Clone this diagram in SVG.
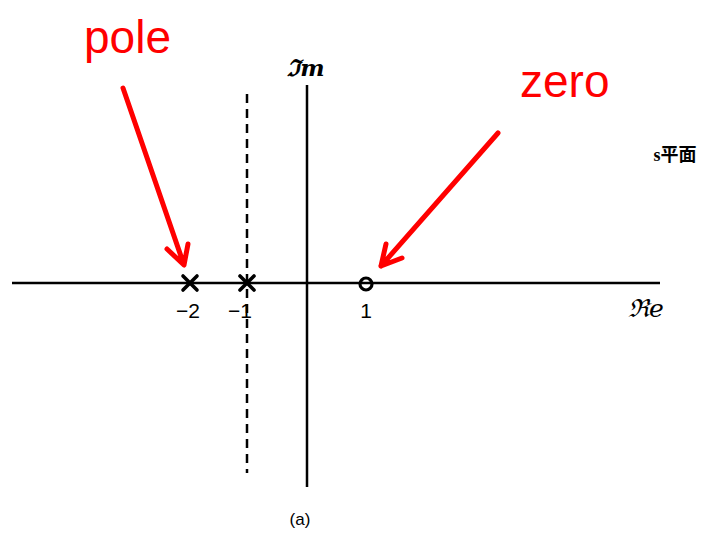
<svg xmlns="http://www.w3.org/2000/svg" width="710" height="536" viewBox="0 0 710 536">
<defs>
<style>
.ax{stroke:#000;stroke-width:2.5;fill:none}
.dash{stroke:#000;stroke-width:2.5;stroke-dasharray:9 6;fill:none}
.mk{stroke:#000;stroke-width:3.6;fill:none;stroke-linecap:round}
.lbl{font-family:"Liberation Sans",Arial,sans-serif;font-size:21px;fill:#000;text-anchor:middle}
.red{font-family:"Liberation Sans",Arial,sans-serif;font-size:46px;fill:#ff0000}
.arr{stroke:#ff0000;stroke-width:5;fill:none;stroke-linecap:round;stroke-linejoin:round}
</style>
</defs>
<rect width="710" height="536" fill="#fff"/>
<g id="axes">
<line class="ax" x1="12" y1="283" x2="660" y2="283"/>
<line class="ax" x1="307" y1="85" x2="307" y2="487"/>
<line class="dash" x1="247" y1="94" x2="247" y2="473"/>
<text x="306" y="76" font-family="DejaVu Serif,serif" font-size="23" font-style="italic" font-weight="bold" text-anchor="middle">ℑm</text>
<text x="646" y="317" font-family="DejaVu Serif,serif" font-size="25" font-style="italic" text-anchor="middle">ℜe</text>
<text x="675" y="161" font-family="Liberation Serif,'Noto Sans CJK JP',serif" font-size="18" font-weight="bold" text-anchor="middle">s平面</text>
<text x="300" y="525" font-family="Liberation Sans,Arial,sans-serif" font-size="17" text-anchor="middle">(a)</text>
</g>
<g id="pole-2">
<path class="mk" d="M183 276 L197 290 M197 276 L183 290"/>
<text class="lbl" x="188" y="318">−2</text>
</g>
<g id="pole-1">
<path class="mk" d="M240 276 L254 290 M254 276 L240 290"/>
<text class="lbl" x="240" y="318">−1</text>
</g>
<g id="zero1">
<circle cx="366" cy="284" r="6" stroke="#000" stroke-width="3.2" fill="none"/>
<text class="lbl" x="366" y="318">1</text>
</g>
<g id="pole-label">
<text class="red" x="84" y="53">pole</text>
</g>
<g id="zero-label">
<text class="red" x="520" y="97">zero</text>
</g>
<g id="connectors">
<path class="arr" d="M123 88 L184 265 M167 249 L184 265 L188 244"/>
<path class="arr" d="M498 133 L381 266 M386 244 L381 266 L402 258"/>
</g>
</svg>
